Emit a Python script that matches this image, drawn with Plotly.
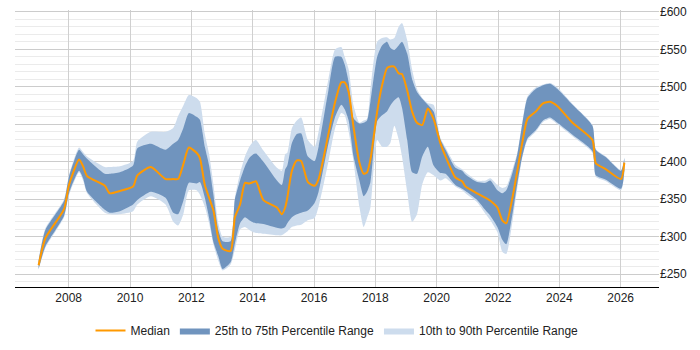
import plotly.graph_objects as go

years = [2007.02, 2007.24, 2007.85, 2008.01, 2008.34, 2008.47, 2008.6, 2009.18, 2009.34, 2009.67,
         2010.1, 2010.24, 2010.68, 2011.16, 2011.41, 2011.57, 2011.74, 2011.92, 2012.17, 2012.28,
         2012.44, 2012.58, 2012.72, 2012.88, 2013.02, 2013.28, 2013.42, 2013.59, 2013.75, 2013.89,
         2014.02, 2014.11, 2014.35, 2014.79, 2014.95, 2015.06, 2015.13, 2015.28, 2015.44, 2015.58,
         2015.8, 2016.02, 2016.15, 2016.47, 2016.69, 2016.89, 2017.0, 2017.13, 2017.29, 2017.48,
         2017.62, 2017.73, 2017.84, 2018.06, 2018.22, 2018.38, 2018.49, 2018.62, 2018.76, 2018.87,
         2019.04, 2019.2, 2019.36, 2019.53, 2019.71, 2019.9, 2020.12, 2020.29, 2020.61, 2020.83,
         2020.94, 2021.32, 2021.6, 2021.75, 2021.98, 2022.14, 2022.27, 2022.47, 2022.63, 2022.79,
         2022.96, 2023.23, 2023.47, 2023.7, 2023.94, 2024.43, 2025.08, 2025.19, 2025.52, 2026.01,
         2026.12]

p10 = [256, 285, 326, 355, 386, 375, 358, 332, 330, 330,
       334, 343, 354, 343, 320, 315, 330, 362, 362, 356,
       340, 318, 290, 268, 255, 263, 283, 310, 313, 309,
       306, 305, 304, 302, 302, 305, 307, 313, 315, 316,
       322, 325, 340, 400, 445, 465, 462, 440, 400, 340,
       313, 325, 339, 429, 420, 420, 425, 448, 430, 407,
       360, 320, 330, 370, 386, 382, 375, 378, 367, 362,
       358, 346, 330, 322, 306, 280, 277, 320, 365, 405,
       429, 440, 453, 457, 450, 434, 412, 380, 374, 362,
       385]

p25 = [257, 287, 328, 358, 388, 378, 360, 336, 332, 334,
       343, 349, 360, 352, 332, 330, 348, 372, 371, 373,
       352, 325, 293, 274, 257, 266, 291, 318, 326, 322,
       319, 318, 317, 312, 311, 313, 318, 326, 330, 332,
       335, 345, 360, 424, 460, 476, 470, 455, 407, 375,
       354, 360, 373, 454, 462, 467, 475, 482, 486, 472,
       429, 386, 384, 407, 420, 395, 385, 384, 369, 364,
       361, 349, 335, 328, 313, 296, 290, 330, 371, 407,
       431, 442, 455, 459, 452, 436, 414, 382, 376, 364,
       388]

median = [262, 298, 337, 369, 403, 394, 381, 368, 358, 361,
          367, 382, 393, 377, 377, 377, 397, 419, 412, 405,
          369, 352, 335, 298, 284, 281, 326, 343, 372, 371,
          373, 374, 349, 339, 330, 339, 352, 388, 402, 401,
          373, 368, 377, 437, 480, 506, 506, 493, 446, 399,
          384, 386, 403, 467, 502, 525, 527, 527, 518, 517,
          495, 467, 452, 449, 471, 457, 425, 407, 379, 374,
          367, 358, 352, 348, 339, 322, 318, 352, 388, 425,
          457, 467, 478, 480, 474, 452, 429, 398, 390, 377,
          399]

p75 = [268, 309, 348, 380, 416, 410, 404, 384, 384, 386,
       395, 418, 424, 416, 424, 429, 445, 465, 460, 456,
       420, 395, 356, 309, 294, 294, 350, 375, 394, 405,
       410, 411, 400, 375, 369, 390, 395, 425, 437, 438,
       407, 401, 420, 495, 540, 540, 530, 506, 458, 451,
       452, 455, 480, 540, 555, 560, 552, 549, 555, 560,
       544, 510, 493, 484, 476, 467, 430, 416, 392, 388,
       383, 373, 372, 375, 362, 358, 362, 385, 410, 450,
       485, 497, 502, 504, 497, 476, 448, 416, 406, 388,
       405]

p90 = [270, 311, 350, 382, 419, 413, 407, 393, 393, 394,
       401, 427, 440, 440, 445, 461, 475, 489, 485, 480,
       437, 410, 370, 318, 300, 300, 352, 385, 407, 420,
       427, 429, 415, 392, 388, 410, 412, 445, 455, 459,
       429, 420, 440, 510, 550, 553, 540, 523, 475, 452,
       455, 457, 497, 560, 565, 566, 563, 565, 580, 585,
       562, 523, 497, 485, 478, 476, 432, 419, 396, 390,
       386, 375, 375, 378, 369, 365, 367, 390, 412, 452,
       487, 499, 503, 505, 499, 477, 449, 417, 407, 389,
       406]

y_ticks = [250, 300, 350, 400, 450, 500, 550, 600]
y_labels = ["£" + str(v) for v in y_ticks]
x_ticks = [2008, 2010, 2012, 2014, 2016, 2018, 2020, 2022, 2024, 2026]

LIGHT = "#cddced"
DARK = "#7094be"
ORANGE = "#ff9900"

fig = go.Figure()
fig.add_trace(go.Scatter(x=years, y=p90, mode="lines", line=dict(width=0, shape="spline", smoothing=0.6),
                         showlegend=False, hoverinfo="skip"))
fig.add_trace(go.Scatter(x=years, y=p10, mode="lines", line=dict(width=0, shape="spline", smoothing=0.6),
                         fill="tonexty", fillcolor=LIGHT, name="10th to 90th Percentile Range",
                         legendrank=3))
fig.add_trace(go.Scatter(x=years, y=p75, mode="lines", line=dict(width=0, shape="spline", smoothing=0.6),
                         showlegend=False, hoverinfo="skip"))
fig.add_trace(go.Scatter(x=years, y=p25, mode="lines", line=dict(width=0, shape="spline", smoothing=0.6),
                         fill="tonexty", fillcolor=DARK, name="25th to 75th Percentile Range",
                         legendrank=2))
fig.add_trace(go.Scatter(x=years, y=median, mode="lines",
                         line=dict(color=ORANGE, width=2, shape="spline", smoothing=0.6),
                         name="Median", legendrank=1))

fig.update_layout(
    width=700, height=350,
    margin=dict(l=15, r=41, t=5, b=58),
    paper_bgcolor="white", plot_bgcolor="white",
    font=dict(family="Liberation Sans, Arial, sans-serif", size=12, color="#222"),
    legend=dict(orientation="h", x=0.5, xanchor="center", y=-0.105, yanchor="top",
                font=dict(size=12), traceorder="normal", itemwidth=30),
    xaxis=dict(range=[2006.25, 2027.25], tickvals=x_ticks, ticktext=[str(t) for t in x_ticks],
               showgrid=True, gridcolor="#d0d0d0", gridwidth=1,
               showline=True, linecolor="#000", linewidth=1, zeroline=False,
               ticks="", tickfont=dict(size=12)),
    yaxis=dict(range=[233, 602.5], side="right", tickvals=y_ticks, ticktext=y_labels,
               showgrid=True, gridcolor="#cccccc", gridwidth=1, zeroline=False,
               showline=False, ticks="", tickfont=dict(size=12),
               minor=dict(dtick=10, tick0=0, showgrid=True, gridcolor="#ebebeb", gridwidth=1)),
)

fig.write_html("out.html")
